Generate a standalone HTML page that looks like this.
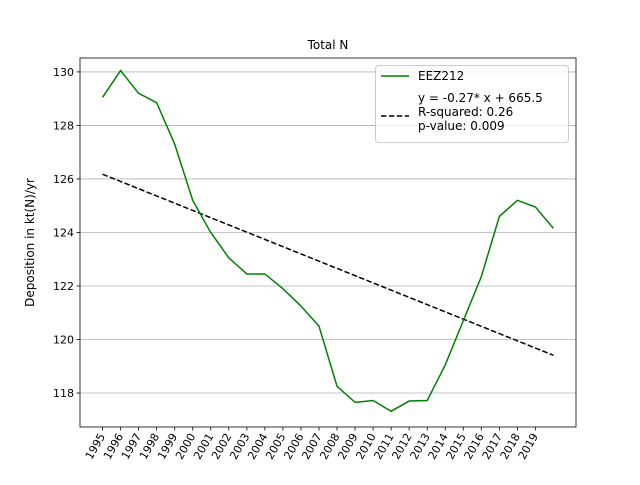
<!DOCTYPE html>
<html><head><meta charset="utf-8"><style>
body{margin:0;background:#fff;}
svg text{font-family:"DejaVu Sans","Liberation Sans",sans-serif;fill:#000;}
</style></head><body>
<svg id="chart" width="640" height="480"></svg>
<script>
const years=[1995,1996,1997,1998,1999,2000,2001,2002,2003,2004,2005,2006,2007,2008,2009,2010,2011,2012,2013,2014,2015,2016,2017,2018,2019,2020];
const values=[129.05,130.05,129.2,128.85,127.3,125.2,124.0,123.05,122.45,122.45,121.9,121.25,120.5,118.25,117.65,117.72,117.32,117.7,117.72,119.05,120.7,122.35,124.6,125.2,124.95,124.15];
const yTicks=[118,120,122,124,126,128,130];
const xTickLabels=[1995,1996,1997,1998,1999,2000,2001,2002,2003,2004,2005,2006,2007,2008,2009,2010,2011,2012,2013,2014,2015,2016,2017,2018,2019];

const NS="http://www.w3.org/2000/svg";
const svg=document.getElementById('chart');
const L=80,R=576,T=58,B=427;
const xMin=years[0]-(years[years.length-1]-years[0])*0.05, xMax=years[years.length-1]+(years[years.length-1]-years[0])*0.05;
const yMin=116.73,yMax=130.52;
const X=v=>L+(v-xMin)/(xMax-xMin)*(R-L);
const Y=v=>B-(v-yMin)/(yMax-yMin)*(B-T);
function el(t,a,txt){const e=document.createElementNS(NS,t);for(const k in a)e.setAttribute(k,a[k]);if(txt!==undefined)e.textContent=txt;svg.appendChild(e);return e;}

yTicks.forEach(v=>{
  const g=el('line',{x1:L,x2:R,y1:Y(v),y2:Y(v),stroke:'#b0b0b0','stroke-width':0.8});
  
  
  el('line',{x1:L-3.5,x2:L,y1:Y(v),y2:Y(v),stroke:'#000','stroke-width':0.8});
  const t=el('text',{x:L-6,y:Y(v)+4,'text-anchor':'end','font-size':11},String(v));
  
  
});
xTickLabels.forEach(v=>{
  el('line',{x1:X(v),x2:X(v),y1:B,y2:B+3.5,stroke:'#000','stroke-width':0.8});
  const t=el('text',{x:X(v)+3,y:B+9,'text-anchor':'end','font-size':11,transform:`rotate(-60 ${X(v)+3} ${B+9})`},String(v));
  
  
});

const n=years.length;const mx=years.reduce((a,b)=>a+b)/n,my=values.reduce((a,b)=>a+b)/n;
let sxy=0,sxx=0;years.forEach((x,i)=>{sxy+=(x-mx)*(values[i]-my);sxx+=(x-mx)**2;});
const slope=sxy/sxx,icpt=my-slope*mx;
const tr=el('line',{x1:X(years[0]),y1:Y(slope*years[0]+icpt),x2:X(years[n-1]),y2:Y(slope*years[n-1]+icpt),stroke:'#000','stroke-width':1.5,'stroke-dasharray':'5.5,2.4'});



const pl=el('polyline',{points:years.map((y,i)=>X(y)+','+Y(values[i])).join(' '),fill:'none',stroke:'green','stroke-width':1.5});



const fr=el('rect',{x:L,y:T,width:R-L,height:B-T,fill:'none',stroke:'#000','stroke-width':0.8});



const ti=el('text',{x:(L+R)/2,y:49,'text-anchor':'middle','font-size':12},'Total N');


const yl=el('text',{x:34,y:(T+B)/2,'text-anchor':'middle','font-size':12,transform:`rotate(-90 34 ${(T+B)/2})`},'Deposition in kt(N)/yr');



const lg=el('rect',{x:375.5,y:65.5,width:193,height:77,rx:3,fill:'#fff','fill-opacity':0.8,stroke:'#ccc','stroke-width':1});


el('line',{x1:381,x2:409,y1:76,y2:76,stroke:'green','stroke-width':1.5});
const l1=el('text',{x:418,y:80,'font-size':12},'EEZ212');


el('line',{x1:381,x2:409,y1:116,y2:116,stroke:'#000','stroke-width':1.5,'stroke-dasharray':'5.5,2.4'});
['y = -0.27* x + 665.5','R-squared: 0.26','p-value: 0.009'].forEach((s,i)=>{
  const t=el('text',{x:418,y:102+i*14,'font-size':12},s);
  
  
});
</script>
</body></html>
